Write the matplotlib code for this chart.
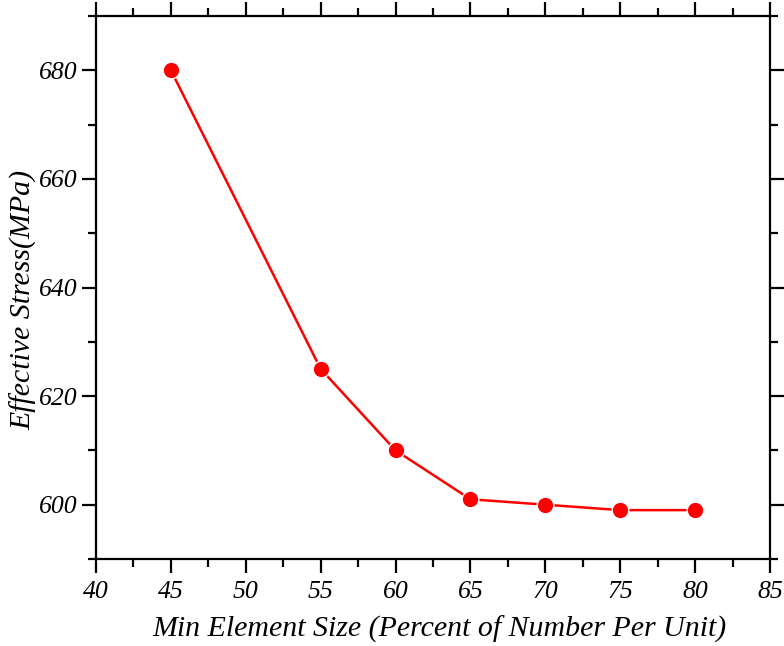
import matplotlib
matplotlib.use("Agg")
import matplotlib.pyplot as plt
from matplotlib.ticker import MultipleLocator

x_vals = [45, 55, 60, 65, 70, 75, 80]
y_vals = [680, 625, 610, 601, 600, 599, 599]
x_label = "Min Element Size (Percent of Number Per Unit)"
y_label = "Effective Stress(MPa)"

plt.rcParams['font.family'] = ['Liberation Serif', 'DejaVu Serif']
plt.rcParams['font.style'] = 'italic'

fig = plt.figure(figsize=(7.84, 6.46), dpi=100)
ax = fig.add_axes([96/784, 1-559/646, (770-96)/784, (559-16)/646])
ax.plot(x_vals, y_vals, color='#ff0000', lw=1.8, marker='o', ms=12,
        mfc='#ff0000', mec='white', mew=1.0)
ax.set_xlim(40, 85)
ax.set_ylim(590, 690)
ax.xaxis.set_major_locator(MultipleLocator(5))
ax.xaxis.set_minor_locator(MultipleLocator(2.5))
ax.yaxis.set_major_locator(MultipleLocator(20))
ax.yaxis.set_minor_locator(MultipleLocator(10))
ax.tick_params(which='both', direction='out', top=True, right=True,
               labeltop=False, labelright=False, width=1.6, labelsize=18.5)
ax.tick_params(which='major', length=10)
ax.tick_params(axis='y', which='major', pad=3.5)
ax.tick_params(axis='x', which='major', pad=6)
ax.tick_params(which='minor', length=5.5)
for s in ax.spines.values():
    s.set_linewidth(1.6)
ax.set_xlabel(x_label, fontsize=21.5, style='italic')
ax.set_ylabel(y_label, fontsize=21.5, style='italic')
ax.xaxis.set_label_coords(0.51, -0.105)
ax.yaxis.set_label_coords(-0.087, 0.477)
for t in ax.get_xticklabels() + ax.get_yticklabels():
    t.set_style('italic')
fig.savefig('out.png', dpi=100)
